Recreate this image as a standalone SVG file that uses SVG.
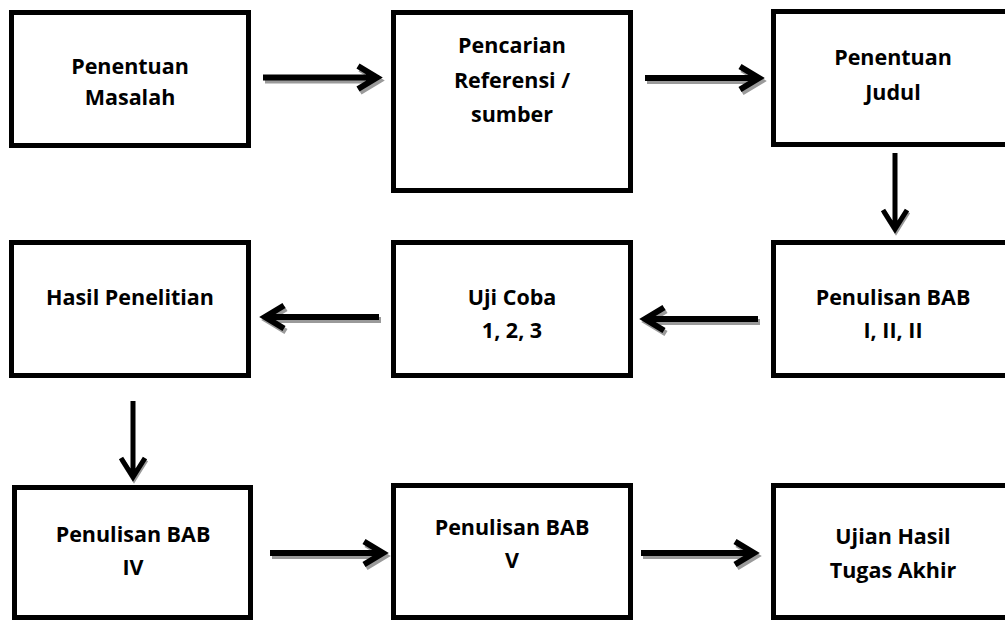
<svg xmlns="http://www.w3.org/2000/svg" width="1005" height="620" viewBox="0 0 1005 620">
<style>
.box{fill:#fff;stroke:#000;stroke-width:5}
.t{font-family:"Open Sans","Liberation Sans",sans-serif;font-weight:700;font-size:21.5px;fill:#000;text-anchor:middle}
.sh{fill:none;stroke:#9a9a9a;stroke-width:6}
.ar{fill:none;stroke:#000;stroke-width:6}
.shv{fill:none;stroke:#9a9a9a;stroke-width:5}
.arv{fill:none;stroke:#000;stroke-width:5}
</style>
<rect width="1005" height="620" fill="#fff"/>
<g id="n1"><rect class="box" x="11.5" y="12.5" width="237" height="133"/><text class="t" x="130" y="74">Penentuan</text><text class="t" x="130" y="105">Masalah</text></g>
<g id="n2"><rect class="box" x="393.5" y="12.5" width="237" height="178"/><text class="t" x="512" y="53">Pencarian</text><text class="t" x="512" y="88">Referensi /</text><text class="t" x="512" y="122">sumber</text></g>
<g id="n3"><rect class="box" x="773.5" y="11.5" width="237" height="133"/><text class="t" x="893" y="65">Penentuan</text><text class="t" x="893" y="100">Judul</text></g>
<g id="n4"><rect class="box" x="11.5" y="242.5" width="237" height="133"/><text class="t" x="130" y="305">Hasil Penelitian</text></g>
<g id="n5"><rect class="box" x="393.5" y="242.5" width="237" height="133"/><text class="t" x="512" y="305">Uji Coba</text><text class="t" x="512" y="338">1, 2, 3</text></g>
<g id="n6"><rect class="box" x="773.5" y="242.5" width="237" height="133"/><text class="t" x="893" y="305">Penulisan BAB</text><text class="t" x="893" y="338">I, II, II</text></g>
<g id="n7"><rect class="box" x="14.5" y="487.5" width="236" height="130"/><text class="t" x="133" y="542">Penulisan BAB</text><text class="t" x="133" y="575">IV</text></g>
<g id="n8"><rect class="box" x="393.5" y="485.5" width="237" height="132"/><text class="t" x="512" y="535">Penulisan BAB</text><text class="t" x="512" y="568">V</text></g>
<g id="n9"><rect class="box" x="773.5" y="485.5" width="237" height="132"/><text class="t" x="893" y="544">Ujian Hasil</text><text class="t" x="893" y="578">Tugas Akhir</text></g>
<g id="connectors">
<g transform="translate(2,3)">
<path class="sh" d="M263 77.5H376M358 66L377 77.5L358 89"/>
<path class="sh" d="M645 78H758M740 66.5L759 78L740 89.5"/>
<path class="sh" d="M379 317H266M284 305.5L265 317L284 328.5"/>
<path class="sh" d="M758 319H646M664 307.5L645 319L664 330.5"/>
<path class="sh" d="M270 553H382M364 541.5L383 553L364 564.5"/>
<path class="sh" d="M641 553H753M735 541.5L754 553L735 564.5"/>
</g>
<g transform="translate(1,2)">
<path class="shv" d="M883 210L895 229L907 210"/>
<path class="shv" d="M121 458L133 477L145 458"/>
</g>
<path class="ar" d="M263 77.5H376M358 66L377 77.5L358 89"/>
<path class="ar" d="M645 78H758M740 66.5L759 78L740 89.5"/>
<path class="ar" d="M379 317H266M284 305.5L265 317L284 328.5"/>
<path class="ar" d="M758 319H646M664 307.5L645 319L664 330.5"/>
<path class="ar" d="M270 553H382M364 541.5L383 553L364 564.5"/>
<path class="ar" d="M641 553H753M735 541.5L754 553L735 564.5"/>
<path class="arv" d="M895 153V227M883 210L895 229L907 210"/>
<path class="arv" d="M133 401V475M121 458L133 477L145 458"/>
</g>
</svg>
